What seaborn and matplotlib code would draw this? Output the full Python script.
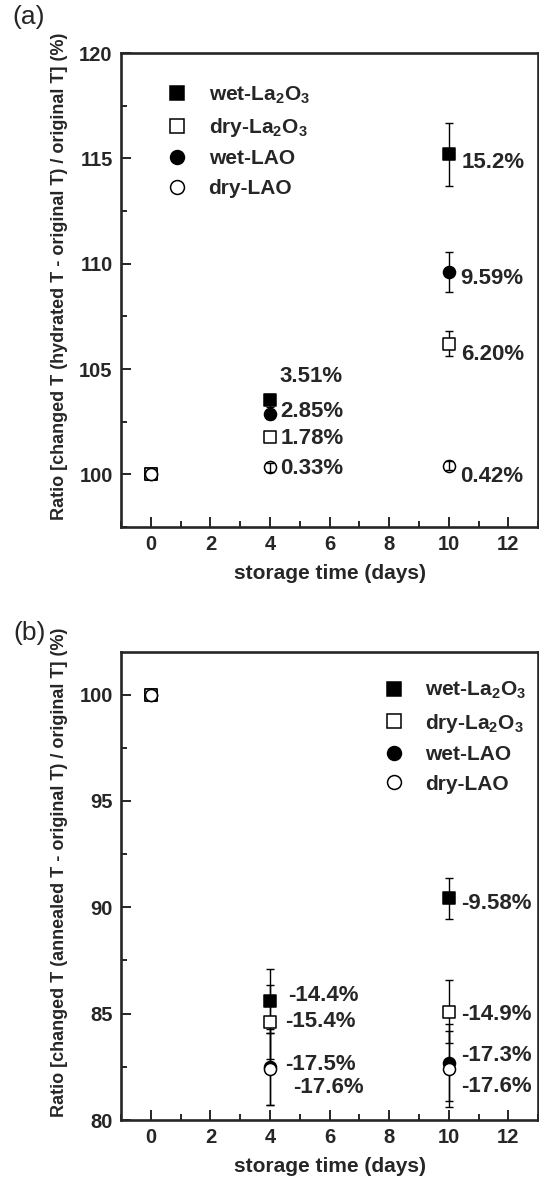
import numpy as np
import pandas as pd
import matplotlib
matplotlib.use("Agg")
import matplotlib.pyplot as plt
import seaborn as sns
from matplotlib.lines import Line2D
from matplotlib.ticker import MultipleLocator

# data
days = [0, 4, 10]
samples = ["wet-La2O3", "wet-LAO", "dry-La2O3", "dry-LAO"]
labels = {"wet-La2O3": "wet-La$_2$O$_3$", "dry-La2O3": "dry-La$_2$O$_3$",
          "wet-LAO": "wet-LAO", "dry-LAO": "dry-LAO"}

# (a) hydrated
hyd_wet_la2o3 = [100, 103.51, 115.2]
hyd_wet_lao = [100, 102.85, 109.59]
hyd_dry_la2o3 = [100, 101.78, 106.20]
hyd_dry_lao = [100, 100.33, 100.42]
hyd_err_wet_la2o3 = [0, 0.3, 1.5]
hyd_err_wet_lao = [0, 0.2, 0.95]
hyd_err_dry_la2o3 = [0, 0.1, 0.6]
hyd_err_dry_lao = [0, 0.2, 0.2]
hyd_text = ["3.51%", "2.85%", "1.78%", "0.33%", "15.2%", "9.59%", "6.20%", "0.42%"]
hyd_text_x = [4.31, 4.35, 4.35, 4.35, 10.44, 10.37, 10.43, 10.39]
hyd_text_y = [104.64, 103.0, 101.69, 100.27, 114.8, 109.29, 105.7, 99.9]

# (b) annealed
ann_wet_la2o3 = [100, 85.6, 90.42]
ann_wet_lao = [100, 82.5, 82.7]
ann_dry_la2o3 = [100, 84.6, 85.1]
ann_dry_lao = [100, 82.4, 82.4]
ann_err_wet_la2o3 = [0, 1.5, 0.95]
ann_err_wet_lao = [0, 1.8, 1.8]
ann_err_dry_la2o3 = [0, 1.75, 1.5]
ann_err_dry_lao = [0, 1.7, 1.8]
ann_text = ["-14.4%", "-15.4%", "-17.5%", "-17.6%", "-9.58%", "-14.9%", "-17.3%", "-17.6%"]
ann_text_x = [4.61, 4.5, 4.5, 4.78, 10.43, 10.4, 10.4, 10.4]
ann_text_y = [85.86, 84.61, 82.6, 81.51, 90.16, 84.95, 83.05, 81.6]

markers = {"wet-La2O3": "s", "dry-La2O3": "s", "wet-LAO": "o", "dry-LAO": "o"}
faces = {"wet-La2O3": "black", "dry-La2O3": "white", "wet-LAO": "black", "dry-LAO": "white"}

sns.set_style("ticks")
plt.rcParams["font.family"] = ["Liberation Sans", "DejaVu Sans"]
plt.rcParams["font.weight"] = "bold"
plt.rcParams["mathtext.fontset"] = "custom"
plt.rcParams["mathtext.rm"] = "Liberation Sans:bold"
plt.rcParams["mathtext.it"] = "Liberation Sans:bold"
plt.rcParams["mathtext.bf"] = "Liberation Sans:bold"
plt.rcParams["mathtext.default"] = "rm"


def make_df(vals, errs):
    rows = []
    for s in samples:
        for d, v, e in zip(days, vals[s], errs[s]):
            rows.append({"sample": s, "day": d, "ratio": v, "err": e})
    return pd.DataFrame(rows)


df_a = make_df({"wet-La2O3": hyd_wet_la2o3, "wet-LAO": hyd_wet_lao,
                "dry-La2O3": hyd_dry_la2o3, "dry-LAO": hyd_dry_lao},
               {"wet-La2O3": hyd_err_wet_la2o3, "wet-LAO": hyd_err_wet_lao,
                "dry-La2O3": hyd_err_dry_la2o3, "dry-LAO": hyd_err_dry_lao})
df_b = make_df({"wet-La2O3": ann_wet_la2o3, "wet-LAO": ann_wet_lao,
                "dry-La2O3": ann_dry_la2o3, "dry-LAO": ann_dry_lao},
               {"wet-La2O3": ann_err_wet_la2o3, "wet-LAO": ann_err_wet_lao,
                "dry-La2O3": ann_err_dry_la2o3, "dry-LAO": ann_err_dry_lao})

fig = plt.figure(figsize=(5.39, 11.79), dpi=100)
ax_a = fig.add_axes([0.2245, 0.553, 0.774, 0.402])
ax_b = fig.add_axes([0.2245, 0.050, 0.774, 0.397])


def draw_panel(ax, df, texts, tx, ty, ylim, yticks, ylabel, legend_anchor, err_on_top):
    for i, s in enumerate(samples):
        sub = df[df["sample"] == s]
        sub = sub[sub["err"] > 0]
        z = 4 + i
        if err_on_top and s == "dry-LAO":
            z = 20
        ax.errorbar(sub["day"], sub["ratio"], yerr=sub["err"], fmt="none",
                    ecolor="black", elinewidth=1.0, capsize=3, capthick=1.0, zorder=z)
        sns.scatterplot(data=df[df["sample"] == s], x="day", y="ratio",
                        marker=markers[s], color=faces[s], edgecolor="black",
                        linewidth=1.1, s=75, ax=ax, legend=False, zorder=5 + i)
    for t, x, y in zip(texts, tx, ty):
        ax.text(x, y, t, fontsize=16, fontweight="bold", ha="left", va="center")

    ax.set_xlim(-1, 13)
    ax.set_ylim(*ylim)
    ax.set_xticks([0, 2, 4, 6, 8, 10, 12])
    ax.xaxis.set_minor_locator(MultipleLocator(1))
    ax.set_yticks(yticks)
    ax.yaxis.set_minor_locator(MultipleLocator(2.5))
    ax.tick_params(which="both", direction="in", width=1.4, pad=6,
                   labelsize=14.5, top=False, right=False)
    ax.tick_params(which="major", length=7)
    ax.tick_params(which="minor", length=4)
    for sp in ax.spines.values():
        sp.set_linewidth(1.9)
        sp.set_visible(True)
    ax.set_xlabel("storage time (days)", fontsize=15, fontweight="bold", labelpad=7)
    ax.set_ylabel(ylabel, fontsize=13, fontweight="bold")
    ax.yaxis.set_label_coords(-0.128, 0.53)

    order = ["wet-La2O3", "dry-La2O3", "wet-LAO", "dry-LAO"]
    handles = [Line2D([], [], linestyle="none", marker=markers[s],
                      markerfacecolor=faces[s], markeredgecolor="black",
                      markeredgewidth=1.1, markersize=10)
               for s in order]
    ax.legend(handles, [labels[s] for s in order],
              loc="upper left", bbox_to_anchor=legend_anchor, frameon=False,
              fontsize=15, handlelength=1.0, handletextpad=1.0, labelspacing=0.5,
              borderpad=0, borderaxespad=0)


draw_panel(ax_a, df_a, hyd_text, hyd_text_x, hyd_text_y, (97.5, 120), [100, 105, 110, 115, 120],
           "Ratio [changed T (hydrated T - original T) / original T] (%)", (0.11, 0.934), True)
draw_panel(ax_b, df_b, ann_text, ann_text_x, ann_text_y, (80, 102), [80, 85, 90, 95, 100],
           "Ratio [changed T (annealed T - original T) / original T] (%)", (0.63, 0.94), False)

fig.text(0.054, 0.9856, "(a)", fontsize=19, fontweight="normal", ha="center", va="center")
fig.text(0.054, 0.463, "(b)", fontsize=19, fontweight="normal", ha="center", va="center")

fig.savefig("out.png", dpi=100)
